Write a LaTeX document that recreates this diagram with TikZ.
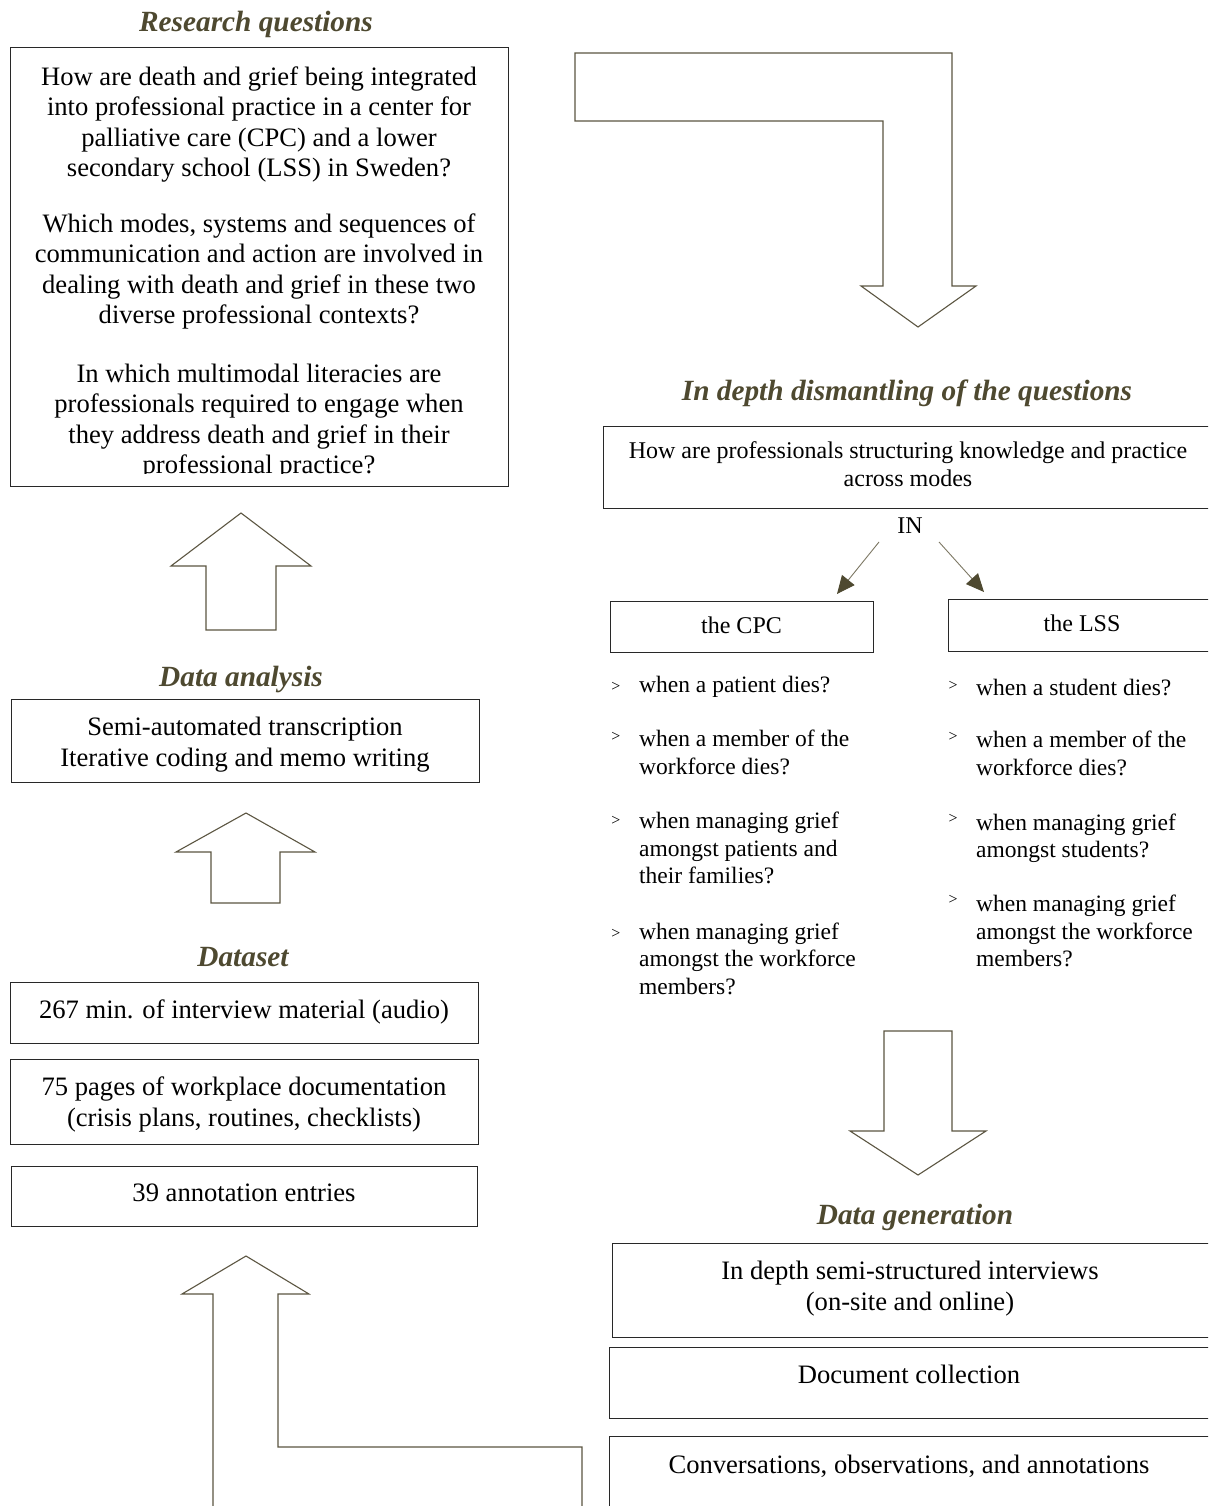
\documentclass[tikz,border=0pt]{standalone}
\usepackage{fontspec}
\setmainfont{Liberation Serif}
\usetikzlibrary{arrows.meta}
\definecolor{headc}{RGB}{78,73,48}
\definecolor{arrc}{RGB}{92,86,66}
\definecolor{boxc}{RGB}{40,40,40}
\definecolor{inl}{RGB}{125,120,100}
\begin{document}
\begin{tikzpicture}[x=1pt,y=-1pt,
  box/.style={draw=boxc,line width=1.1pt,inner sep=0pt,anchor=north west},
  head/.style={font=\fontsize{29.3}{33}\selectfont\bfseries\itshape,text=headc,inner sep=0pt,anchor=base},
  body/.style={font=\fontsize{26.6}{30.3}\selectfont,align=center,inner sep=0pt},
  small/.style={font=\fontsize{24}{28}\selectfont,align=center,inner sep=0pt},
  item/.style={font=\fontsize{23.5}{27.5}\selectfont,align=left,inner sep=0pt,anchor=north west},
  bul/.style={font=\fontsize{16}{16}\selectfont,inner sep=0pt},
  blockarrow/.style={draw=arrc,line width=1.1pt,line join=miter,fill=white},
  inarrow/.style={draw=inl,line width=0.9pt,-{Triangle[length=18pt,width=16pt,fill=headc,color=headc]}}]
\useasboundingbox (0,0) rectangle (1208,1506);
\clip (0,0) rectangle (1208,1506);
\fill[white] (0,0) rectangle (1208,1506);

% ---------- left column ----------
\node[head] (hrq) at (256,31.5) {Research questions};
\node[box,minimum width=498pt,minimum height=439pt] (rq) at (10,47) {};
\begin{scope}
\clip (10,47) rectangle (508,473.5);
\node[body] (rq1) at (259,124.5) {How are death and grief being integrated\\into professional practice in a center for\\palliative care (CPC) and a lower\\secondary school (LSS) in Sweden?};
\node[body] (rq2) at (259,271.5) {Which modes, systems and sequences of\\communication and action are involved in\\dealing with death and grief in these two\\diverse professional contexts?};
\node[body] (rq3) at (259,421.5) {In which multimodal literacies are\\professionals required to engage when\\they address death and grief in their\\professional practice?};
\end{scope}

\draw[blockarrow] (206,630) -- (206,566) -- (171,566) -- (241,513) -- (311,566) -- (276,566) -- (276,630) -- cycle;

\node[head] (hda) at (241,686) {Data analysis};
\node[box,minimum width=468pt,minimum height=83pt] (da) at (11,699) {};
\node[body,font=\fontsize{26.6}{31}\selectfont] (dat) at (245,744.5) {Semi-automated transcription\\Iterative coding and memo writing};

\draw[blockarrow] (211,903) -- (211,852) -- (176,852) -- (246,813) -- (315,852) -- (280,852) -- (280,903) -- cycle;

\node[head] (hds) at (243,966) {Dataset};
\node[box,minimum width=468pt,minimum height=61pt] (ds1) at (10,982) {};
\node[body] (ds1t) at (244,1012) {267 min. of interview material (audio)};
\node[box,minimum width=468pt,minimum height=85pt] (ds2) at (10,1059) {};
\node[body,font=\fontsize{26.6}{31}\selectfont] (ds2t) at (244,1104.5) {75 pages of workplace documentation\\(crisis plans, routines, checklists)};
\node[box,minimum width=466pt,minimum height=60pt] (ds3) at (11,1166) {};
\node[body] (ds3t) at (244,1193) {39 annotation entries};

\draw[blockarrow] (213,1530) -- (213,1294) -- (182,1294) -- (246,1256) -- (309,1294) -- (278,1294) -- (278,1447) -- (582,1447) -- (582,1530) -- cycle;

% ---------- right column ----------
\draw[blockarrow] (575,53) -- (952,53) -- (952,286) -- (976,286) -- (918,327) -- (861,286) -- (883,286) -- (883,121) -- (575,121) -- cycle;

\node[head] (hid) at (907,400) {In depth dismantling of the questions};
\node[box,minimum width=620pt,minimum height=82pt] (idd) at (603,426) {};
\node[small] (iddt) at (908,464.5) {How are professionals structuring knowledge and practice\\across modes};

\node[small] (in) at (910,526) {IN};
\coordinate (inl1) at (879,542);
\coordinate (inl2) at (837,594);
\coordinate (inr1) at (939,542);
\coordinate (inr2) at (984,592);
\draw[inarrow] (inl1) -- (inl2);
\draw[inarrow] (inr1) -- (inr2);

\node[box,minimum width=263pt,minimum height=51pt] (cpc) at (610,601) {};
\node[small] (cpct) at (741.5,625) {the CPC};
\node[box,minimum width=270pt,minimum height=52pt] (lss) at (948,599) {};
\node[small] (lsst) at (1082,623) {the LSS};

% CPC items
\node[bul] (bl1) at (616,687) {>};
\node[item] (l1) at (639,676) {when a patient dies?};
\node[bul] (bl2) at (616,737) {>};
\node[item] (l2) at (639,730) {when a member of the\\workforce dies?};
\node[bul] (bl3) at (616,821) {>};
\node[item] (l3) at (639,812) {when managing grief\\amongst patients and\\their families?};
\node[bul] (bl4) at (616,934) {>};
\node[item] (l4) at (639,922.5) {when managing grief\\amongst the workforce\\members?};

% LSS items
\node[bul] (br1) at (953,686) {>};
\node[item] (r1) at (976,679) {when a student dies?};
\node[bul] (br2) at (953,737) {>};
\node[item] (r2) at (976,731) {when a member of the\\workforce dies?};
\node[bul] (br3) at (953,819) {>};
\node[item] (r3) at (976,813.5) {when managing grief\\amongst students?};
\node[bul] (br4) at (953,900) {>};
\node[item] (r4) at (976,895) {when managing grief\\amongst the workforce\\members?};

\draw[blockarrow] (884,1031) -- (952,1031) -- (952,1131) -- (986,1131) -- (918,1175) -- (850,1131) -- (884,1131) -- cycle;

\node[head] (hdg) at (915,1224) {Data generation};
\node[box,minimum width=610pt,minimum height=94pt] (dg1) at (612,1243) {};
\node[body,font=\fontsize{26.6}{31}\selectfont] (dg1t) at (910,1288.5) {In depth semi-structured interviews\\(on-site and online)};
\node[box,minimum width=613pt,minimum height=71pt] (dg2) at (609,1347) {};
\node[body] (dg2t) at (909,1374) {Document collection};
\node[box,minimum width=613pt,minimum height=100pt] (dg3) at (609,1436) {};
\node[body] (dg3t) at (909,1466) {Conversations, observations, and annotations};
\end{tikzpicture}
\end{document}
